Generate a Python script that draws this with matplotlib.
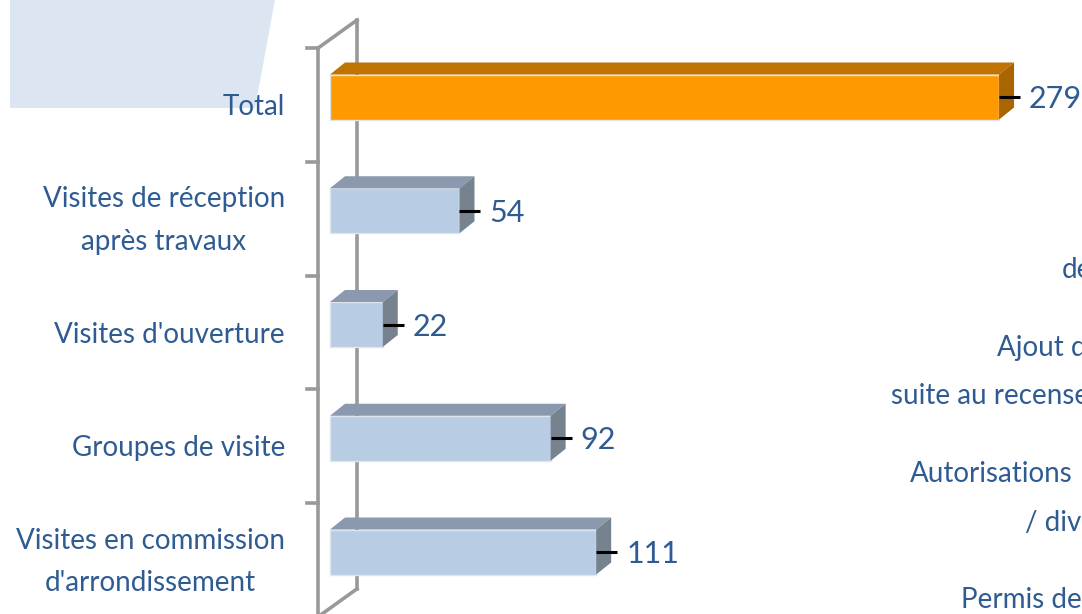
import matplotlib
matplotlib.use("Agg")
import matplotlib.pyplot as plt
from matplotlib.patches import Polygon

categories = ["Total", "Visites de réception\naprès travaux", "Visites d'ouverture",
              "Groupes de visite", "Visites en commission\nd'arrondissement"]
values = [279, 54, 22, 92, 111]
bar_colors = ["#ff9900", "#b8cce4", "#b8cce4", "#b8cce4", "#b8cce4"]
top_colors = ["#bf7300", "#8a99ad", "#8a99ad", "#8a99ad", "#8a99ad"]
side_colors = ["#a86500", "#76838f", "#76838f", "#76838f", "#76838f"]

# second chart, cut off by the right edge of the picture
cut_labels = ["de", "Ajout de", "suite au recensement", "Autorisations", "/ divers", "Permis de"]
cut_label_x = [1062, 997, 891, 910, 1025, 961]
cut_label_y = [270, 348, 396, 474, 523, 600]

W, H = 1082, 614
PX_X = 2.398   # pixels per visit
PX_Y = 113.75  # pixels per category
TEXT = "#2f5b93"
FONT = "Lato"

fig = plt.figure(figsize=(W / 100, H / 100), dpi=100)
fig.patches.append(Polygon([(10 / W, 1), (275 / W, 1), (255 / W, 1 - 108 / H), (10 / W, 1 - 108 / H)],
                           closed=True, transform=fig.transFigure, fc="#dce6f2", ec="none", zorder=-1))

ax = fig.add_axes([0, 0, 1, 1])
ax.patch.set_alpha(0)
ax.set_xlim(-330 / PX_X, (W - 330) / PX_X)
ax.set_ylim((H - 97) / PX_Y, -97 / PX_Y)
ax.axis("off")

dx = 15 / PX_X
dy = 12 / PX_Y
bar_h = 45 / PX_Y
wall_dx = 12 / PX_X
wall_dep = 39 / PX_X
wall_top = -0.43
wall_rise = 28 / PX_Y
n = len(values)

# walls and ticks
grey = "#999999"
ax.plot([-wall_dx, -wall_dx], [wall_top, n], color=grey, lw=2.6, zorder=1)
ax.plot([-wall_dx + wall_dep] * 2, [wall_top - wall_rise, n - 0.43 - wall_rise], color=grey, lw=2.6, zorder=1)
ax.plot([-wall_dx, -wall_dx + wall_dep], [wall_top, wall_top - wall_rise], color=grey, lw=2.6, zorder=1)
ax.plot([-wall_dx, -wall_dx + wall_dep], [n - 0.43, n - 0.43 - wall_rise], color=grey, lw=2.6, zorder=1)
for i in range(n):
    ax.plot([-wall_dx - 11 / PX_X, -wall_dx], [i + wall_top] * 2, color=grey, lw=2.6, zorder=1)

ax.barh(range(n), values, height=bar_h, color=bar_colors, edgecolor="#dfe5ec", lw=1, zorder=3)

for i, v in enumerate(values):
    t = i - bar_h / 2
    b = i + bar_h / 2
    ax.add_patch(Polygon([(0, t), (dx, t - dy), (v + dx, t - dy), (v, t)], fc=top_colors[i], ec="none", zorder=3))
    ax.add_patch(Polygon([(v, t), (v + dx, t - dy), (v + dx, b - dy), (v, b)], fc=side_colors[i], ec="none", zorder=3))
    ax.plot([v, v + 21 / PX_X], [i, i], color="black", lw=2.2, zorder=4, solid_capstyle="butt")
    ax.text(v + 30 / PX_X, i + 2 / PX_Y, str(v), color=TEXT, fontsize=22, family=FONT, va="center", ha="left", zorder=5)
    ax.text(-45 / PX_X, i + 10 / PX_Y, categories[i], color=TEXT, fontsize=20, family=FONT,
            va="center", ha="right", multialignment="center", linespacing=1.8)

for s, x, y in zip(cut_labels, cut_label_x, cut_label_y):
    fig.text(x / W, 1 - y / H, s, color=TEXT, fontsize=20, family=FONT, va="center", ha="left")

fig.savefig("out.png", dpi=100)
